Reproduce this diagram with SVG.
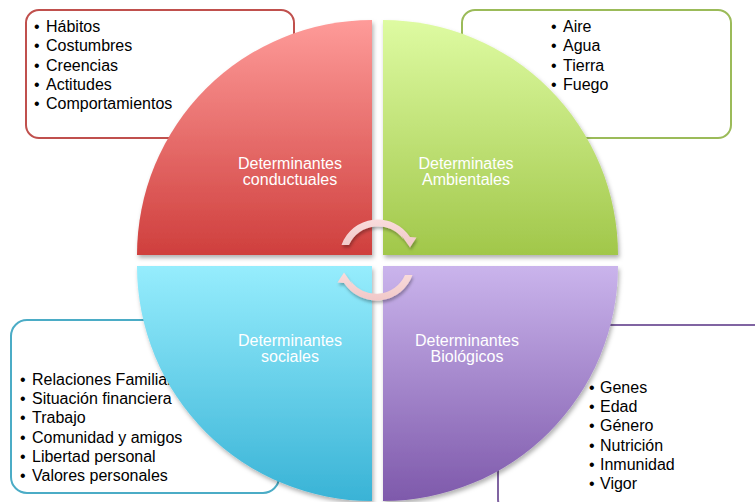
<svg xmlns="http://www.w3.org/2000/svg" width="755" height="502" viewBox="0 0 755 502">
  <defs>
    <linearGradient id="gRed" x1="0" y1="0" x2="0" y2="1">
      <stop offset="0" stop-color="#fe9b99"/>
      <stop offset="1" stop-color="#cf3f3d"/>
    </linearGradient>
    <linearGradient id="gGreen" x1="0" y1="0" x2="0" y2="1">
      <stop offset="0" stop-color="#defba2"/>
      <stop offset="1" stop-color="#a1c74a"/>
    </linearGradient>
    <linearGradient id="gBlue" x1="0" y1="0" x2="0" y2="1">
      <stop offset="0" stop-color="#96edfd"/>
      <stop offset="1" stop-color="#39b3d6"/>
    </linearGradient>
    <linearGradient id="gPurple" x1="0" y1="0" x2="0" y2="1">
      <stop offset="0" stop-color="#cab4ec"/>
      <stop offset="1" stop-color="#7e59ab"/>
    </linearGradient>
    <linearGradient id="gArrow" x1="0" y1="0" x2="0" y2="1">
      <stop offset="0" stop-color="#f9dcdc"/>
      <stop offset="1" stop-color="#f1c8c8"/>
    </linearGradient>
    <filter id="shadow" x="-10%" y="-10%" width="125%" height="125%">
      <feDropShadow dx="1.5" dy="3" stdDeviation="2" flood-color="#000" flood-opacity="0.3"/>
    </filter>
    <filter id="arrowShadow" x="-20%" y="-20%" width="150%" height="150%">
      <feDropShadow dx="1" dy="2.5" stdDeviation="1.5" flood-color="#000" flood-opacity="0.3"/>
    </filter>
  </defs>
  <style>
    .box { fill: #ffffff; stroke-width: 2; }
    .list { font-family: "Liberation Sans", Arial, sans-serif; font-size: 16px; fill: #000000; }
    .label { font-family: "Liberation Sans", Arial, sans-serif; font-size: 16px; fill: #ffffff; text-anchor: middle; }
    .quad { filter: url(#shadow); }
    .arrow { fill: url(#gArrow); filter: url(#arrowShadow); }
  </style>

  <!-- detail boxes (behind the circle) -->
  <g id="box-conductuales">
    <rect class="box" x="26" y="10" width="268" height="128" rx="13" stroke="#c0504d"/>
    <text class="list">
      <tspan x="34" y="32">•</tspan><tspan x="46" y="32">Hábitos</tspan>
      <tspan x="34" y="51.3">•</tspan><tspan x="46" y="51.3">Costumbres</tspan>
      <tspan x="34" y="70.5">•</tspan><tspan x="46" y="70.5">Creencias</tspan>
      <tspan x="34" y="89.7">•</tspan><tspan x="46" y="89.7">Actitudes</tspan>
      <tspan x="34" y="109">•</tspan><tspan x="46" y="109">Comportamientos</tspan>
    </text>
  </g>
  <g id="box-ambientales">
    <rect class="box" x="462" y="10" width="269" height="128" rx="13" stroke="#9bbb59"/>
    <text class="list">
      <tspan x="551" y="32">•</tspan><tspan x="563" y="32">Aire</tspan>
      <tspan x="551" y="51.3">•</tspan><tspan x="563" y="51.3">Agua</tspan>
      <tspan x="551" y="70.5">•</tspan><tspan x="563" y="70.5">Tierra</tspan>
      <tspan x="551" y="89.7">•</tspan><tspan x="563" y="89.7">Fuego</tspan>
    </text>
  </g>
  <g id="box-sociales">
    <rect class="box" x="11" y="320" width="268" height="173" rx="16" stroke="#4bacc6"/>
    <text class="list">
      <tspan x="20" y="385">•</tspan><tspan x="32" y="385">Relaciones Familiares</tspan>
      <tspan x="20" y="404.2">•</tspan><tspan x="32" y="404.2">Situación financiera</tspan>
      <tspan x="20" y="423.4">•</tspan><tspan x="32" y="423.4">Trabajo</tspan>
      <tspan x="20" y="442.6">•</tspan><tspan x="32" y="442.6">Comunidad y amigos</tspan>
      <tspan x="20" y="461.8">•</tspan><tspan x="32" y="461.8">Libertad personal</tspan>
      <tspan x="20" y="481">•</tspan><tspan x="32" y="481">Valores personales</tspan>
    </text>
  </g>
  <g id="box-biologicos">
    <rect class="box" x="498" y="325" width="275" height="190" rx="16" stroke="#8064a2"/>
    <text class="list">
      <tspan x="589" y="392.7">•</tspan><tspan x="600" y="392.7">Genes</tspan>
      <tspan x="589" y="412">•</tspan><tspan x="600" y="412">Edad</tspan>
      <tspan x="589" y="431.3">•</tspan><tspan x="600" y="431.3">Género</tspan>
      <tspan x="589" y="450.6">•</tspan><tspan x="600" y="450.6">Nutrición</tspan>
      <tspan x="589" y="469.9">•</tspan><tspan x="600" y="469.9">Inmunidad</tspan>
      <tspan x="589" y="489.2">•</tspan><tspan x="600" y="489.2">Vigor</tspan>
    </text>
  </g>

  <!-- circle quadrants -->
  <g id="quad-conductuales">
    <path class="quad" d="M372,255 L137,255 A235,235 0 0 1 372,20 Z" fill="url(#gRed)"/>
    <text class="label"><tspan x="290" y="168.5">Determinantes</tspan><tspan x="290" y="185">conductuales</tspan></text>
  </g>
  <g id="quad-ambientales">
    <path class="quad" d="M383,255 L383,20 A235,235 0 0 1 618,255 Z" fill="url(#gGreen)"/>
    <text class="label"><tspan x="466" y="168.5">Determinates</tspan><tspan x="466" y="185">Ambientales</tspan></text>
  </g>
  <g id="quad-sociales">
    <path class="quad" d="M372,266 L372,501 A235,235 0 0 1 137,266 Z" fill="url(#gBlue)"/>
    <text class="label"><tspan x="290" y="346">Determinantes</tspan><tspan x="290" y="362">sociales</tspan></text>
  </g>
  <g id="quad-biologicos">
    <path class="quad" d="M383,266 L618,266 A235,235 0 0 1 383,501 Z" fill="url(#gPurple)"/>
    <text class="label"><tspan x="467" y="346">Determinantes</tspan><tspan x="467" y="362">Biológicos</tspan></text>
  </g>

  <!-- circular arrows in the centre -->
  <g id="connectors">
    <path class="arrow" d="M341.5,245 A38.5,38.5 0 0 1 410,237 L416.5,237.5 L410,247.5 L401.5,235.5 L403.5,239.5 A31.5,31.5 0 0 0 349,245 Z"/>
    <path class="arrow" d="M412.5,275 A38.5,38.5 0 0 1 344,283 L337.5,282.5 L344,272.5 L352.5,284.5 L350.5,280.5 A31.5,31.5 0 0 0 405,275 Z"/>
  </g>
</svg>
